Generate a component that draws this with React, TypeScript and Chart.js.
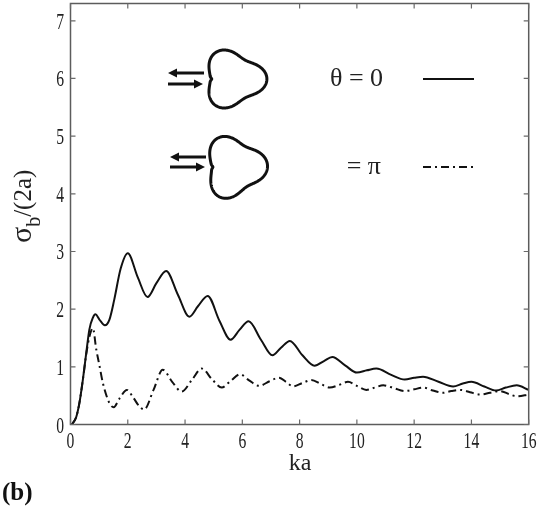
import { useEffect, useRef } from "react";
import { Chart, registerables } from "chart.js";

Chart.register(...registerables);

// θ = 0 (solid)
const kaTheta0 = [
  0.05, 0.2, 0.31, 0.43, 0.55, 0.66, 0.78, 0.87, 1.01, 1.2, 1.36, 1.53, 1.75, 2.0,
  2.35, 2.69, 3.0, 3.34, 3.75, 4.15, 4.45, 4.79, 5.2, 5.59, 5.9, 6.22, 6.65, 7.05,
  7.35, 7.66, 8.1, 8.52, 8.85, 9.14, 9.6, 10.0, 10.35, 10.68, 11.2, 11.67, 12.0,
  12.31, 12.85, 13.36, 13.7, 14.0, 14.45, 14.86, 15.2, 15.58, 16.0,
];
const sigmaTheta0 = [
  0, 0.13, 0.37, 0.77, 1.24, 1.65, 1.85, 1.91, 1.82, 1.72, 1.82, 2.17, 2.7, 2.97,
  2.55, 2.21, 2.45, 2.66, 2.25, 1.87, 2.05, 2.23, 1.8, 1.47, 1.64, 1.79, 1.47, 1.2,
  1.33, 1.45, 1.2, 1.02, 1.1, 1.17, 1.02, 0.9, 0.94, 0.97, 0.86, 0.78, 0.81,
  0.83, 0.74, 0.66, 0.71, 0.74, 0.66, 0.59, 0.64, 0.68, 0.6,
];

// θ = π (dash-dot)
const kaThetaPi = [
  0.05, 0.2, 0.31, 0.43, 0.55, 0.66, 0.78, 0.9, 1.0, 1.13, 1.36, 1.51, 1.71, 1.97,
  2.2, 2.41, 2.57, 2.9, 3.22, 3.55, 3.88, 4.25, 4.58, 4.95, 5.28, 5.6, 5.92, 6.25,
  6.59, 6.95, 7.28, 7.55, 7.77, 8.1, 8.41, 8.75, 9.05, 9.4, 9.69, 10.0, 10.33,
  10.62, 10.92, 11.3, 11.67, 12.0, 12.31, 12.65, 13.0, 13.3, 13.6, 13.95, 14.3,
  14.65, 15.0, 15.3, 15.58, 16.0,
];
const sigmaThetaPi = [
  0, 0.13, 0.37, 0.77, 1.22, 1.52, 1.67, 1.3, 1.05, 0.72, 0.37, 0.3, 0.45, 0.6,
  0.46, 0.31, 0.26, 0.6, 0.95, 0.74, 0.57, 0.78, 0.97, 0.78, 0.64, 0.76, 0.87, 0.76,
  0.67, 0.75, 0.81, 0.73, 0.66, 0.72, 0.77, 0.7, 0.64, 0.69, 0.74, 0.67, 0.6,
  0.64, 0.68, 0.63, 0.58, 0.61, 0.64, 0.59, 0.55, 0.58, 0.6, 0.56, 0.52,
  0.55, 0.58, 0.53, 0.49, 0.52,
];

const xTicks = [0, 2, 4, 6, 8, 10, 12, 14, 16];
const yTicks = [0, 1, 2, 3, 4, 5, 6, 7];
const xTitle = "ka";
const yTitleMain = "σ";
const yTitleSub = "b";
const yTitleRest = "/(2a)";
const legendTexts = ["θ = 0", "= π"];
const panelLabel = "(b)";

const SERIF = `"Liberation Serif", "Times New Roman", Times, serif`;

function trefoil(ctx: CanvasRenderingContext2D, cx: number, cy: number, rx: number, ry: number, tilt: number) {
  ctx.beginPath();
  for (let i = 0; i <= 360; i++) {
    const t = (i * Math.PI) / 180;
    let r = 1 + 0.18 * Math.cos(3 * (t - tilt));
    const d = t - Math.PI;
    r -= 0.05 * Math.exp(-Math.pow(d / 0.07, 2));
    const x = cx + rx * r * Math.cos(t);
    const y = cy - ry * r * Math.sin(t);
    if (i === 0) ctx.moveTo(x, y);
    else ctx.lineTo(x, y);
  }
  ctx.closePath();
  ctx.stroke();
}

function arrow(ctx: CanvasRenderingContext2D, x1: number, x2: number, y: number) {
  const dir = x2 > x1 ? 1 : -1;
  const head = 9;
  ctx.beginPath();
  ctx.moveTo(x1, y);
  ctx.lineTo(x2 - dir * head, y);
  ctx.stroke();
  ctx.beginPath();
  ctx.moveTo(x2, y);
  ctx.lineTo(x2 - dir * head, y - 4.5);
  ctx.lineTo(x2 - dir * head, y + 4.5);
  ctx.closePath();
  ctx.fill();
}

export default function App() {
  const ref = useRef<HTMLCanvasElement>(null);

  useEffect(() => {
    const canvas = ref.current;
    if (!canvas) return;

    const overlay = {
      id: "overlay",
      afterDraw(chart: any) {
        const { ctx, chartArea: a, scales } = chart;
        const xs = scales.x;
        const ys = scales.y;
        ctx.save();

        // frame
        ctx.strokeStyle = "#5c5c5c";
        ctx.lineWidth = 1.5;
        ctx.strokeRect(a.left, a.top, a.right - a.left, a.bottom - a.top);

        // inward ticks on all sides
        ctx.lineWidth = 1.2;
        ctx.strokeStyle = "#6a6a6a";
        ctx.beginPath();
        xTicks.forEach((v) => {
          const px = xs.getPixelForValue(v);
          ctx.moveTo(px, a.bottom);
          ctx.lineTo(px, a.bottom - 5);
          ctx.moveTo(px, a.top);
          ctx.lineTo(px, a.top + 5);
        });
        yTicks.forEach((v) => {
          const py = ys.getPixelForValue(v);
          ctx.moveTo(a.left, py);
          ctx.lineTo(a.left + 5, py);
          ctx.moveTo(a.right, py);
          ctx.lineTo(a.right - 5, py);
        });
        ctx.stroke();

        // tick labels (condensed serif)
        ctx.fillStyle = "#222";
        ctx.font = `23px ${SERIF}`;
        ctx.textBaseline = "alphabetic";
        xTicks.forEach((v) => {
          const px = xs.getPixelForValue(v);
          ctx.save();
          ctx.translate(px, 448);
          ctx.scale(0.68, 1);
          ctx.textAlign = "center";
          ctx.fillText(String(v), 0, 0);
          ctx.restore();
        });
        yTicks.forEach((v) => {
          const py = ys.getPixelForValue(v);
          ctx.save();
          ctx.translate(64, py + 8);
          ctx.scale(0.68, 1);
          ctx.textAlign = "right";
          ctx.fillText(String(v), 0, 0);
          ctx.restore();
        });

        // x title
        ctx.font = `24px ${SERIF}`;
        ctx.textAlign = "center";
        ctx.fillText(xTitle, 300, 470);

        // y title (rotated, with subscript)
        ctx.save();
        ctx.translate(31, 243);
        ctx.rotate(-Math.PI / 2);
        ctx.textAlign = "left";
        ctx.font = `30px ${SERIF}`;
        ctx.fillText(yTitleMain, 0, 0);
        let off = ctx.measureText(yTitleMain).width;
        ctx.font = `20px ${SERIF}`;
        ctx.fillText(yTitleSub, off, 9);
        off += ctx.measureText(yTitleSub).width;
        ctx.font = `25px ${SERIF}`;
        ctx.fillText(yTitleRest, off, 0);
        ctx.restore();

        // panel label
        ctx.font = `bold 25px ${SERIF}`;
        ctx.textAlign = "left";
        ctx.fillStyle = "#111";
        ctx.fillText(panelLabel, 2, 500);

        // inset legend: shapes + arrows
        ctx.strokeStyle = "#111";
        ctx.fillStyle = "#111";
        ctx.lineWidth = 3;
        trefoil(ctx, 233.5, 79, 28.3, 26.6, 0);
        trefoil(ctx, 234.5, 167, 28, 28.4, 0.04);
        ctx.lineWidth = 3;
        arrow(ctx, 204, 168, 73);
        arrow(ctx, 168, 203, 84);
        arrow(ctx, 206, 170, 157);
        arrow(ctx, 170, 205, 167);

        // legend texts
        ctx.fillStyle = "#222";
        ctx.font = `26px ${SERIF}`;
        ctx.textAlign = "left";
        ctx.textBaseline = "middle";
        ctx.fillText(legendTexts[0], 330, 79);
        ctx.textAlign = "right";
        ctx.fillText(legendTexts[1], 381, 167);

        // legend line samples
        ctx.strokeStyle = "#111";
        ctx.lineWidth = 2;
        ctx.beginPath();
        ctx.moveTo(423, 79);
        ctx.lineTo(474, 79);
        ctx.stroke();
        ctx.setLineDash([8, 4, 2, 4]);
        ctx.beginPath();
        ctx.moveTo(423, 167);
        ctx.lineTo(474, 167);
        ctx.stroke();
        ctx.setLineDash([]);

        ctx.restore();
      },
    };

    const chart = new Chart(canvas, {
      type: "line",
      data: {
        datasets: [
          {
            label: legendTexts[0],
            data: kaTheta0.map((x, i) => ({ x, y: sigmaTheta0[i] })),
            borderColor: "#111",
            borderWidth: 2,
            pointRadius: 0,
            fill: false,
            cubicInterpolationMode: "monotone",
          },
          {
            label: legendTexts[1],
            data: kaThetaPi.map((x, i) => ({ x, y: sigmaThetaPi[i] })),
            borderColor: "#111",
            borderWidth: 2,
            borderDash: [8, 4, 2, 4],
            pointRadius: 0,
            fill: false,
            cubicInterpolationMode: "monotone",
          },
        ],
      },
      options: {
        responsive: false,
        animation: false,
        events: [],
        layout: { padding: { left: 70.5, top: 3.5, right: 14.3, bottom: 94.5 } },
        scales: {
          x: { type: "linear", min: 0, max: 16, display: false },
          y: { type: "linear", min: 0, max: 7.3, display: false },
        },
        plugins: {
          legend: { display: false },
          tooltip: { enabled: false },
        },
      },
      plugins: [overlay],
    } as any);

    let alive = true;
    const fonts: any = (document as any).fonts;
    if (fonts && fonts.load) {
      Promise.all([
        fonts.load(`23px "Liberation Serif"`),
        fonts.load(`bold 25px "Liberation Serif"`),
      ])
        .then(() => {
          if (alive) chart.draw();
        })
        .catch(() => {});
    }

    return () => {
      alive = false;
      chart.destroy();
    };
  }, []);

  return (
    <div style={{ position: "absolute", left: 0, top: 0, width: 543, height: 519, background: "#fff" }}>
      <canvas ref={ref} width={543} height={519} style={{ display: "block", width: 543, height: 519 }} />
    </div>
  );
}
